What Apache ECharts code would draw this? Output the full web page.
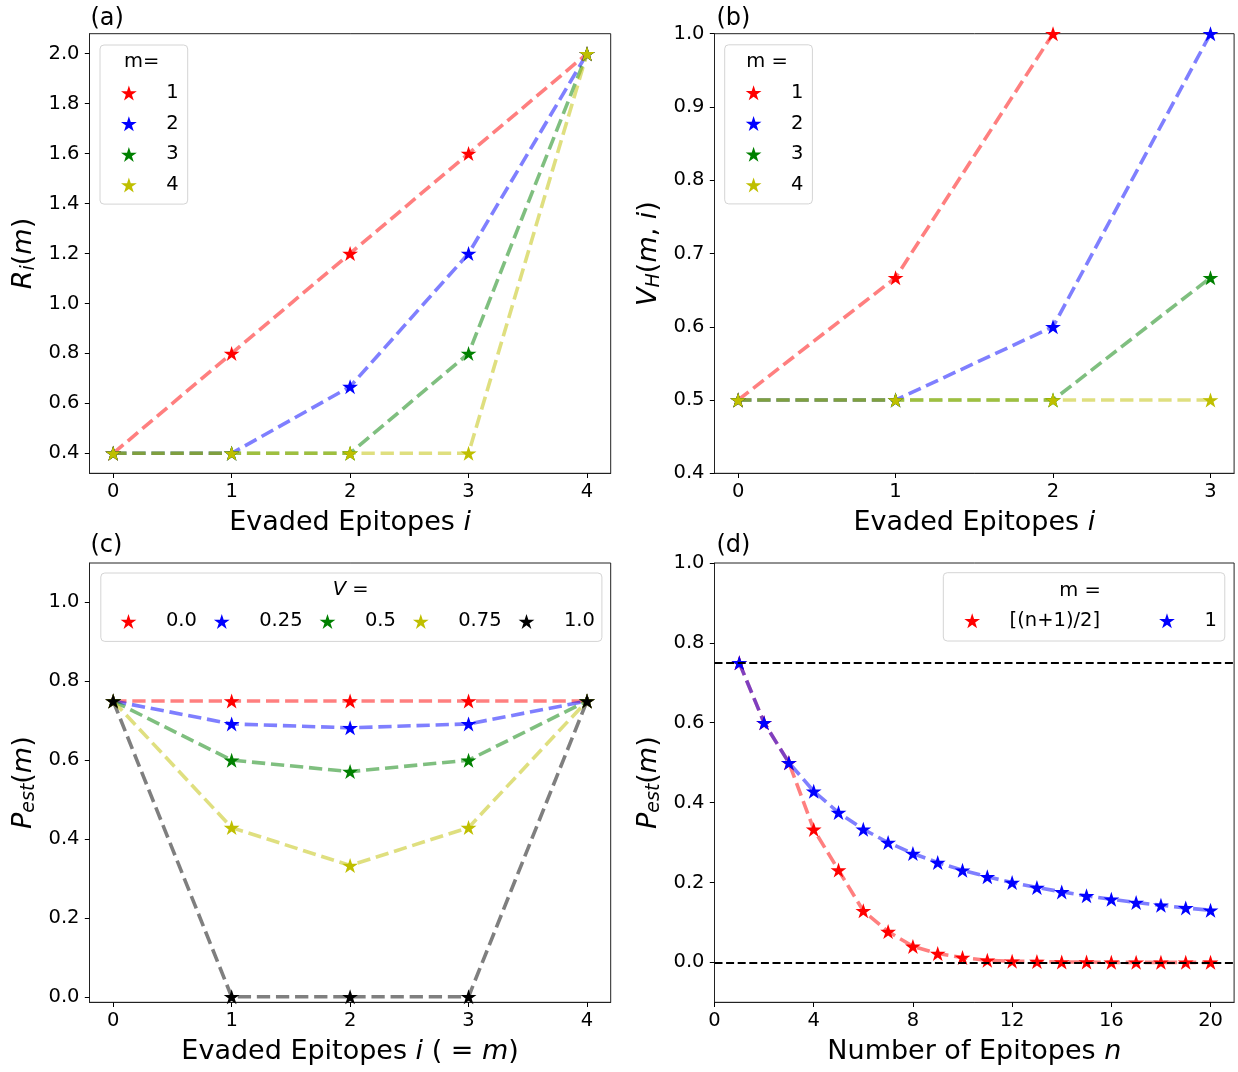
<!DOCTYPE html>
<html><head><meta charset="utf-8">
<script src="https://cdn.jsdelivr.net/npm/echarts@6/dist/echarts.min.js"></script>
<style>html,body{margin:0;padding:0;background:#fff}#c{width:1238px;height:1072px}</style>
</head><body><div id="c"></div>
<script>
// ---------- Panel (a): R_i(m) vs evaded epitopes i ----------
const aX = [0, 1, 2, 3, 4];
const aM1 = [0.4, 0.8, 1.2, 1.6, 2.0];
const aM2 = [0.4, 0.4, 0.667, 1.2, 2.0];
const aM3 = [0.4, 0.4, 0.4, 0.8, 2.0];
const aM4 = [0.4, 0.4, 0.4, 0.4, 2.0];
const aLegendLabels = ['1', '2', '3', '4'];
const aXTicks = [0, 1, 2, 3, 4];
const aYTicks = [0.4, 0.6, 0.8, 1.0, 1.2, 1.4, 1.6, 1.8, 2.0];

// ---------- Panel (b): V_H(m,i) ----------
const bX = [0, 1, 2, 3];
const bM1 = [0.5, 0.667, 1.0, null];
const bM2 = [0.5, 0.5, 0.6, 1.0];
const bM3 = [0.5, 0.5, 0.5, 0.667];
const bM4 = [0.5, 0.5, 0.5, 0.5];
const bLegendLabels = ['1', '2', '3', '4'];
const bXTicks = [0, 1, 2, 3];
const bYTicks = [0.4, 0.5, 0.6, 0.7, 0.8, 0.9, 1.0];

// ---------- Panel (c): P_est(m) for several V ----------
const cX = [0, 1, 2, 3, 4];
const cV00 = [0.75, 0.75, 0.75, 0.75, 0.75];
const cV25 = [0.75, 0.692, 0.682, 0.692, 0.75];
const cV50 = [0.75, 0.6, 0.571, 0.6, 0.75];
const cV75 = [0.75, 0.429, 0.333, 0.429, 0.75];
const cV100 = [0.75, 0.0, 0.0, 0.0, 0.75];
const cLegendLabels = ['0.0', '0.25', '0.5', '0.75', '1.0'];
const cXTicks = [0, 1, 2, 3, 4];
const cYTicks = [0.0, 0.2, 0.4, 0.6, 0.8, 1.0];

// ---------- Panel (d): P_est(m) vs number of epitopes n ----------
const dN = [1, 2, 3, 4, 5, 6, 7, 8, 9, 10, 11, 12, 13, 14, 15, 16, 17, 18, 19, 20];
const dHalf = [0.75, 0.6, 0.5, 0.333, 0.231, 0.129, 0.077, 0.040, 0.022, 0.012, 0.005, 0.003, 0.002, 0.001, 0.001, 0.0, 0.0, 0.0, 0.0, 0.0];
const dOne = [0.75, 0.6, 0.5, 0.4286, 0.375, 0.3333, 0.3, 0.2727, 0.25, 0.2308, 0.2143, 0.2, 0.1875, 0.1765, 0.1667, 0.1579, 0.15, 0.1429, 0.1364, 0.1304];
const dRefLevels = [0.75, 0.0];
const dLegendLabels = ['[(n+1)/2]', '1'];
const dXTicks = [0, 4, 8, 12, 16, 20];
const dYTicks = [0.0, 0.2, 0.4, 0.6, 0.8, 1.0];

// ---------- styling ----------
const FONT = 'DejaVu Sans';
const RED = '#ff0000', BLUE = '#0000ff', GREEN = '#008000', YEL = '#bfbf00', BLK = '#000000';
const STAR = (function () {
  const pts = [];
  for (let k = 0; k < 10; k++) {
    const r = (k % 2 === 0) ? 1 : 0.381966;
    const a = Math.PI / 2 - k * Math.PI / 5;
    pts.push((r * Math.cos(a) * 100).toFixed(2) + ',' + (-r * Math.sin(a) * 100).toFixed(2));
  }
  return 'path://M' + pts.join('L') + 'Z';
})();
const SYM = [15.8, 15];
const TICK_FS = 19.5, NAME_FS = 27;

const LABELS = {};
function mkSeries(id, label, xs, ys, color, gi) {
  LABELS[id] = label;
  return {
    type: 'line', name: id, xAxisIndex: gi, yAxisIndex: gi,
    data: xs.map((x, k) => [x, ys[k]]),
    symbol: STAR, symbolSize: SYM, showSymbol: true, showAllSymbol: true,
    itemStyle: { color: color, opacity: 1 },
    lineStyle: { color: color, opacity: 0.5, width: 3.6, type: [13.3, 5.8] },
    emphasis: { disabled: true }, silent: true, animation: false, clip: true, connectNulls: false
  };
}

const nameRich = {
  n: { fontFamily: FONT, fontSize: NAME_FS, color: '#000', lineHeight: 30 },
  i: { fontFamily: FONT, fontSize: NAME_FS, color: '#000', fontStyle: 'italic', lineHeight: 30 },
  s: { fontFamily: FONT, fontSize: 19, color: '#000', fontStyle: 'italic', lineHeight: 13, verticalAlign: 'bottom' }
};

function mkAxis(dim, gi, min, max, ticks, decimals, name, nameGap) {
  const ax = {
    type: 'value', gridIndex: gi, min: min, max: max,
    axisLine: { show: true, onZero: false, lineStyle: { color: '#222', width: 1 } },
    axisTick: { show: true, inside: false, length: 4.7, customValues: ticks, lineStyle: { color: '#000', width: 1 } },
    axisLabel: {
      show: true, customValues: ticks, formatter: v => Number(v).toFixed(decimals),
      fontFamily: FONT, fontSize: TICK_FS, color: '#000', margin: dim === 'x' ? 8.5 : 10
    },
    splitLine: { show: false },
    name: name, nameLocation: 'middle', nameGap: nameGap,
    nameTextStyle: { fontFamily: FONT, fontSize: NAME_FS, color: '#000', rich: nameRich }
  };
  if (dim === 'y') ax.nameRotate = 90;
  return ax;
}

function mkLegend(ids, left, top, orient, pad, gap) {
  return {
    show: true, orient: orient, left: left, top: top, padding: pad, itemGap: gap,
    itemWidth: SYM[0], itemHeight: SYM[1], selectedMode: false,
    borderColor: '#d4d4d4', borderWidth: 1, borderRadius: 4, backgroundColor: 'rgba(255,255,255,0.85)',
    data: ids.map(n => ({ name: n, icon: STAR })),
    formatter: n => '{t|' + LABELS[n] + '}',
    textStyle: {
      fontFamily: FONT, fontSize: TICK_FS, color: '#000',
      rich: { t: { fontFamily: FONT, fontSize: TICK_FS, color: '#000', lineHeight: 20, padding: [0, 0, 0, 24.5] } }
    },
    z: 4
  };
}

const series = [
  mkSeries('a1', aLegendLabels[0], aX, aM1, RED, 0),
  mkSeries('a2', aLegendLabels[1], aX, aM2, BLUE, 0),
  mkSeries('a3', aLegendLabels[2], aX, aM3, GREEN, 0),
  mkSeries('a4', aLegendLabels[3], aX, aM4, YEL, 0),
  mkSeries('b1', bLegendLabels[0], bX, bM1, RED, 1),
  mkSeries('b2', bLegendLabels[1], bX, bM2, BLUE, 1),
  mkSeries('b3', bLegendLabels[2], bX, bM3, GREEN, 1),
  mkSeries('b4', bLegendLabels[3], bX, bM4, YEL, 1),
  mkSeries('c1', cLegendLabels[0], cX, cV00, RED, 2),
  mkSeries('c2', cLegendLabels[1], cX, cV25, BLUE, 2),
  mkSeries('c3', cLegendLabels[2], cX, cV50, GREEN, 2),
  mkSeries('c4', cLegendLabels[3], cX, cV75, YEL, 2),
  mkSeries('c5', cLegendLabels[4], cX, cV100, BLK, 2),
  mkSeries('d1', dLegendLabels[0], dN, dHalf, RED, 3),
  mkSeries('d2', dLegendLabels[1], dN, dOne, BLUE, 3)
];
series[series.length - 1].markLine = {
  symbol: ['none', 'none'], silent: true, animation: false,
  label: { show: false }, emphasis: { disabled: true },
  lineStyle: { color: '#000', width: 2.2, type: [8, 3.6], opacity: 1 },
  data: dRefLevels.map(v => ({ yAxis: v }))
};

const gridBase = { show: true, borderColor: '#222', borderWidth: 1, backgroundColor: 'transparent' };
const option = {
  animation: false,
  backgroundColor: '#ffffff',
  grid: [
    Object.assign({ left: 89.5, top: 33.7, width: 521.2, height: 439.6 }, gridBase),
    Object.assign({ left: 714.5, top: 33.7, width: 519.6, height: 439.6 }, gridBase),
    Object.assign({ left: 89.5, top: 563, width: 521.2, height: 439.3 }, gridBase),
    Object.assign({ left: 714.5, top: 563, width: 519.6, height: 439.3 }, gridBase)
  ],
  xAxis: [
    mkAxis('x', 0, -0.2, 4.2, aXTicks, 0, '{n|Evaded Epitopes }{i|i}', 35),
    mkAxis('x', 1, -0.15, 3.15, bXTicks, 0, '{n|Evaded Epitopes }{i|i}', 35),
    mkAxis('x', 2, -0.2, 4.2, cXTicks, 0, '{n|Evaded Epitopes }{i|i}{n| ( = }{i|m}{n|)}', 35),
    mkAxis('x', 3, 0, 20.95, dXTicks, 0, '{n|Number of Epitopes }{i|n}', 35)
  ],
  yAxis: [
    mkAxis('y', 0, 0.32, 2.08, aYTicks, 1, '{i|R}{s|i}{n|(}{i|m}{n|)}', 50.5),
    mkAxis('y', 1, 0.4, 1.0, bYTicks, 1, '{i|V}{s|H}{n|(}{i|m}{n|, }{i|i}{n|)}', 50.5),
    mkAxis('y', 2, -0.014, 1.1, cYTicks, 1, '{i|P}{s|est}{n|(}{i|m}{n|)}', 50.5),
    mkAxis('y', 3, -0.1, 1.0, dYTicks, 1, '{i|P}{s|est}{n|(}{i|m}{n|)}', 50.5)
  ],
  legend: [
    mkLegend(['a1', 'a2', 'a3', 'a4'], 100, 45, 'vertical', [38, 9, 9, 21], 10.7),
    mkLegend(['b1', 'b2', 'b3', 'b4'], 724.7, 44.8, 'vertical', [38, 9, 9, 21], 10.7),
    mkLegend(['c1', 'c2', 'c3', 'c4', 'c5'], 100.8, 573, 'horizontal', [38.4, 7, 10, 19.8], 17),
    mkLegend(['d1', 'd2'], 943.3, 572.7, 'horizontal', [38, 8, 10.3, 21], 59)
  ],
  graphic: [
    { type: 'text', x: 90.5, y: 19, z: 100, style: { text: '(a)', fontFamily: FONT, fontSize: 24, fill: '#000', verticalAlign: 'middle' } },
    { type: 'text', x: 716.5, y: 19, z: 100, style: { text: '(b)', fontFamily: FONT, fontSize: 24, fill: '#000', verticalAlign: 'middle' } },
    { type: 'text', x: 90.5, y: 545.5, z: 100, style: { text: '(c)', fontFamily: FONT, fontSize: 24, fill: '#000', verticalAlign: 'middle' } },
    { type: 'text', x: 716.5, y: 545.5, z: 100, style: { text: '(d)', fontFamily: FONT, fontSize: 24, fill: '#000', verticalAlign: 'middle' } },
    { type: 'text', x: 141.7, y: 62, z: 100, style: { text: 'm=', fontFamily: FONT, fontSize: TICK_FS, fill: '#000', align: 'center', verticalAlign: 'middle' } },
    { type: 'text', x: 767, y: 62, z: 100, style: { text: 'm =', fontFamily: FONT, fontSize: TICK_FS, fill: '#000', align: 'center', verticalAlign: 'middle' } },
    { type: 'text', x: 350.6, y: 590, z: 100, style: {
        text: '{i|V}{n| =}', fontFamily: FONT, fontSize: TICK_FS, fill: '#000', align: 'center', verticalAlign: 'middle',
        rich: { i: { fontFamily: FONT, fontSize: TICK_FS, fontStyle: 'italic', fill: '#000' }, n: { fontFamily: FONT, fontSize: TICK_FS, fill: '#000' } } } },
    { type: 'text', x: 1080, y: 590.7, z: 100, style: { text: 'm =', fontFamily: FONT, fontSize: TICK_FS, fill: '#000', align: 'center', verticalAlign: 'middle' } }
  ],
  series: series
};

const chart = echarts.init(document.getElementById('c'), null, { renderer: 'canvas' });
chart.setOption(option);
</script>
</body></html>
